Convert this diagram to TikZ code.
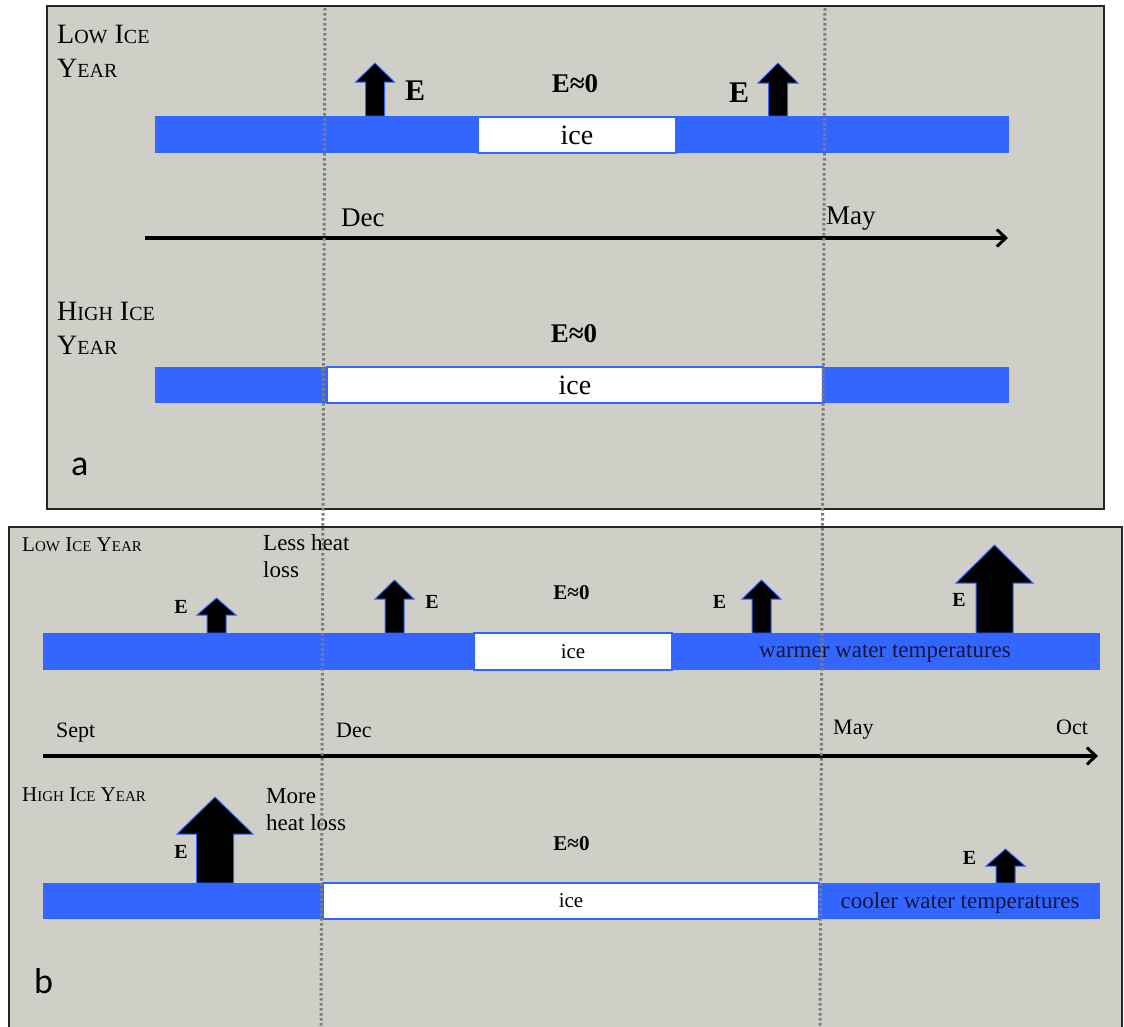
\documentclass[tikz,border=0pt]{standalone}
\usepackage{fontspec}
\setmainfont{Liberation Serif}
\newfontfamily\panelfont{Carlito}
\usetikzlibrary{arrows.meta}
\definecolor{panelbg}{RGB}{208,207,199}
\definecolor{water}{RGB}{51,102,255}
\definecolor{navy}{RGB}{18,22,60}
\definecolor{dotgray}{RGB}{125,125,125}
\newcommand{\fakesc}[4]{{\fontsize{#1}{#1}\selectfont #3}{\fontsize{#2}{#2}\selectfont #4}}
\newcommand{\fluxup}[6]{\filldraw[fluxarrow] ({#1-#5},#2) -- ({#1-#5},#4) -- ({#1-#6},#4) -- (#1,#3) -- ({#1+#6},#4) -- ({#1+#5},#4) -- ({#1+#5},#2) -- cycle;}
\tikzset{
  panel/.style={fill=panelbg, draw=black!85, line width=1.8pt},
  waterbar/.style={fill=water, draw=none},
  icebox/.style={fill=white, draw=water, line width=1.2pt, inner sep=0pt, minimum height=36pt},
  fluxarrow/.style={fill=black, draw=water, line width=1pt, line join=miter},
  guide/.style={draw=dotgray, line width=3pt, dash pattern=on 2.6pt off 2.4pt},
  timeaxis/.style={draw=black, line width=3.2pt, -{Straight Barb[length=9pt,width=17pt,line width=3pt]}},
  lbl/.style={inner sep=0pt},
  bigE/.style={lbl, font=\bfseries\fontsize{30}{32}\selectfont},
  bigE0/.style={lbl, font=\bfseries\fontsize{27}{30}\selectfont},
  smallE/.style={lbl, font=\bfseries\fontsize{20}{22}\selectfont},
  smallE0/.style={lbl, font=\bfseries\fontsize{21}{24}\selectfont},
  month/.style={lbl, anchor=base west, font=\fontsize{27}{30}\selectfont},
  smonth/.style={lbl, anchor=base west, font=\fontsize{22}{24}\selectfont},
  note/.style={lbl, anchor=base west, align=left, font=\fontsize{23}{27}\selectfont},
  watertxt/.style={lbl, text=navy, font=\fontsize{23}{26}\selectfont},
  yearlbl/.style={lbl, anchor=base west, font=\fontsize{28}{30}\selectfont},
  syearlbl/.style={lbl, anchor=base west, font=\fontsize{21}{24}\selectfont},
  panelletter/.style={lbl, anchor=base west, font=\panelfont\fontsize{36}{40}\selectfont},
}
\begin{document}
\begin{tikzpicture}[x=1pt,y=-1pt]
\useasboundingbox (0,0) rectangle (1124,1026);
\fill[white] (0,0) rectangle (1124,1026);
% panels
\draw[panel] (47,6) rectangle (1104,509);
\draw[panel] (9,527) rectangle (1122,1040);

% ---------- panel a ----------
\node[yearlbl] (aLowT) at (57,43) {\fakesc{28}{20}{L}{OW} \fakesc{28}{20}{I}{CE}};
\node[yearlbl] (aLowY) at (57,77) {\fakesc{28}{20}{Y}{EAR}};
\fill[waterbar] (155,116) rectangle (1009,153);
\node[icebox, minimum width=198pt, font=\fontsize{28}{30}\selectfont] (aLowIce) at (577,135) {ice};
\fluxup{375}{116}{63}{82}{9.5}{19.5}
\fluxup{778}{116}{63}{83}{9.5}{20}
\node[bigE] (aE1) at (415,91) {E};
\node[bigE] (aE2) at (739,93) {E};
\node[bigE0] (aE0low) at (575,84) {E≈0};

\coordinate (axA0) at (145,238);
\coordinate (axA1) at (1008,238);
\draw[timeaxis] (axA0) -- (axA1);
\node[month] (aDec) at (341,226) {Dec};
\node[month] (aMay) at (826,224) {May};

\node[yearlbl] (aHighT) at (57,320) {\fakesc{28}{20}{H}{IGH} \fakesc{28}{20}{I}{CE}};
\node[yearlbl] (aHighY) at (57,354) {\fakesc{28}{20}{Y}{EAR}};
\node[bigE0] (aE0high) at (574,334) {E≈0};
\fill[waterbar] (155,367) rectangle (1009,403);
\node[icebox, minimum width=496pt, font=\fontsize{28}{30}\selectfont] (aHighIce) at (575,385) {ice};
\node[panelletter] (aLetter) at (71,475) {a};

% ---------- panel b ----------
\node[syearlbl] (bLowT) at (22,551) {\fakesc{21}{15}{L}{OW} \fakesc{21}{15}{I}{CE} \fakesc{21}{15}{Y}{EAR}};
\fill[waterbar] (43,633) rectangle (1100,670);
\node[icebox, minimum width=198pt, minimum height=37pt, font=\fontsize{21}{24}\selectfont] (bLowIce) at (573,651.5) {ice};
\node[watertxt] (bWarm) at (885,653) {warmer water temperatures};
\fluxup{216.5}{633}{598}{615}{9.5}{19.5}
\fluxup{394.5}{633}{580}{599}{9.5}{19.5}
\fluxup{761.5}{633}{580}{599}{9.5}{19.5}
\fluxup{994.5}{633}{545}{583}{18.5}{38.5}
\node[smallE] (bE1) at (181,607) {E};
\node[smallE] (bE2) at (432,602) {E};
\node[smallE] (bE3) at (719.5,602) {E};
\node[smallE] (bE4) at (959,600) {E};
\node[smallE0] (bE0low) at (571.5,593) {E≈0};
\node[note] (bLess) at (263,577) {Less heat\\loss};

\coordinate (axB0) at (43,756);
\coordinate (axB1) at (1098,756);
\draw[timeaxis] (axB0) -- (axB1);
\node[smonth] (bSept) at (56,737) {Sept};
\node[smonth] (bDec) at (336,737) {Dec};
\node[smonth] (bMay) at (833,734) {May};
\node[smonth] (bOct) at (1056,734) {Oct};

\node[syearlbl] (bHighT) at (22,801) {\fakesc{21}{15}{H}{IGH} \fakesc{21}{15}{I}{CE} \fakesc{21}{15}{Y}{EAR}};
\fill[waterbar] (43,883) rectangle (1100,919);
\node[icebox, minimum width=496pt, font=\fontsize{21}{24}\selectfont] (bHighIce) at (571,901) {ice};
\node[watertxt] (bCool) at (960,903) {cooler water temperatures};
\fluxup{215}{883}{797}{834}{18.5}{38}
\fluxup{1005.5}{883}{849}{866}{9.5}{19.5}
\node[smallE] (bE5) at (181,852) {E};
\node[smallE] (bE6) at (969.5,858) {E};
\node[smallE0] (bE0high) at (571.5,843.5) {E≈0};
\node[note] (bMore) at (266,830) {More\\heat loss};
\node[panelletter] (bLetter) at (34,993) {b};

% dotted guides (on top)
\coordinate (g1t) at (325,8);
\coordinate (g1b) at (321,1026);
\coordinate (g2t) at (825,8);
\coordinate (g2b) at (820,1026);
\draw[guide] (g1t) -- (g1b);
\draw[guide] (g2t) -- (g2b);
\end{tikzpicture}
\end{document}
